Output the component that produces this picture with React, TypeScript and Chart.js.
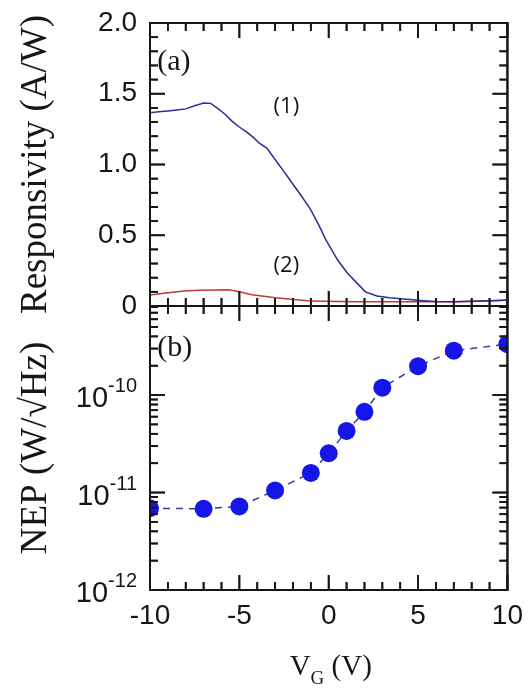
import { useEffect, useRef } from 'react';
import { Chart, registerables } from 'chart.js';
Chart.register(...registerables);

// ---- data ----
const GATE_1 = [-10, -9.5, -9, -8.5, -8, -7.5, -7, -6.6, -6.2, -5.8, -5.4, -5, -4.6, -4.2, -3.9, -3.45, -3, -2.5, -2.1, -1.5, -1.05, -0.6, -0.15, 0.5, 1.05, 1.6, 2.05, 2.7, 3.4, 4.35, 5.3, 6, 7, 8, 9, 10];
const RESP_1 = [1.366, 1.372, 1.378, 1.385, 1.393, 1.415, 1.435, 1.432, 1.395, 1.355, 1.305, 1.265, 1.23, 1.19, 1.152, 1.114, 1.035, 0.95, 0.878, 0.772, 0.69, 0.584, 0.466, 0.325, 0.231, 0.16, 0.1, 0.071, 0.059, 0.047, 0.037, 0.031, 0.03, 0.034, 0.037, 0.042];
const GATE_2 = [-10, -9, -8.1, -7.2, -6.3, -5.6, -5, -4.3, -3.4, -3, -2.1, -1.2, -0.2, 1.6, 3.4, 5.3, 7.1, 8.9, 10];
const RESP_2 = [0.078, 0.094, 0.106, 0.111, 0.113, 0.115, 0.101, 0.08, 0.066, 0.059, 0.047, 0.037, 0.033, 0.03, 0.03, 0.03, 0.03, 0.035, 0.04];
const NEP_GATE = [-10, -7, -5, -3, -1, 0, 1, 2, 3, 5, 7, 10];
const NEP_VALUES = [6.9e-12, 6.8e-12, 7.2e-12, 1.05e-11, 1.59e-11, 2.53e-11, 4.28e-11, 6.74e-11, 1.19e-10, 1.98e-10, 2.85e-10, 3.33e-10];
const X_TICKS = [-10, -5, 0, 5, 10];
const RESP_TICKS = [0, 0.5, 1.0, 1.5, 2.0];
const NEP_TICKS = [1e-12, 1e-11, 1e-10];
const X_RANGE = [-10, 10];
const RESP_RANGE = [0, 2];
const NEP_RANGE = [1e-12, 8.2e-10];
const PANEL_LABELS = ['(a)', '(b)'];
const CURVE_LABELS = ['(1)', '(2)'];
const X_TITLE = ['V', 'G', ' (V)'];

// minor tick positions (axis decoration)
const X_MINOR = Array.from({ length: 21 }, (_, i) => X_RANGE[0] + i);
const RESP_MINOR = Array.from({ length: 21 }, (_, i) => i / 10);
const NEP_MINOR: number[] = [];
for (let d = -12; d <= -10; d++) {
  for (let m = 1; m <= 9; m++) {
    const v = m * Math.pow(10, d);
    if (v <= NEP_RANGE[1]) NEP_MINOR.push(v);
  }
}

const SANS = '"Liberation Sans", Arial, sans-serif';
const SERIF = '"Liberation Serif", "Times New Roman", serif';
const INK = '#161616';

function drawFrames(chart: any) {
  const ctx = chart.ctx;
  const a = chart.chartArea;
  const xs = chart.scales.x;
  const yR = chart.scales.yResp;
  const yN = chart.scales.yNep;
  ctx.save();
  ctx.setLineDash([]);
  ctx.strokeStyle = INK;
  ctx.lineCap = 'butt';
  const seg = (x1: number, y1: number, x2: number, y2: number, w: number) => {
    ctx.lineWidth = w;
    ctx.beginPath();
    ctx.moveTo(x1, y1);
    ctx.lineTo(x2, y2);
    ctx.stroke();
  };
  const panels = [
    { ys: yR, yt: RESP_MINOR.map((v) => ({ v, major: RESP_TICKS.some((m) => Math.abs(m - v) < 1e-9) })) },
    { ys: yN, yt: NEP_MINOR.map((v) => ({ v, major: NEP_TICKS.some((m) => Math.abs(m / v - 1) < 1e-6) })) },
  ];
  for (const p of panels) {
    const top = p.ys.getPixelForValue(p.ys.max);
    const bottom = p.ys.getPixelForValue(p.ys.min);
    for (const v of X_MINOR) {
      const px = xs.getPixelForValue(v);
      const len = X_TICKS.includes(v) ? 15 : 8;
      seg(px, bottom, px, bottom - len, 1.8);
      seg(px, top, px, top + len, 1.8);
    }
    for (const t of p.yt) {
      const py = p.ys.getPixelForValue(t.v);
      const len = t.major ? 15 : 8;
      seg(a.left, py, a.left + len, py, 1.8);
      seg(a.right, py, a.right - len, py, 1.8);
    }
    seg(a.left, top, a.right, top, 2);
    seg(a.left, bottom, a.right, bottom, 2);
    seg(a.left, top - 1, a.left, bottom + 1, 2);
    seg(a.right, top - 1, a.right, bottom + 1, 2);
  }
  ctx.restore();
}

const decor = {
  id: 'decor',
  beforeDatasetsDraw(chart: any) {
    drawFrames(chart);
  },
  afterDraw(chart: any) {
    drawFrames(chart);
    const ctx = chart.ctx;
    const a = chart.chartArea;
    const xs = chart.scales.x;
    const yR = chart.scales.yResp;
    const yN = chart.scales.yNep;
    ctx.save();
    ctx.fillStyle = INK;
    // log tick labels with raised exponents
    const right = a.left - 13;
    for (const v of NEP_TICKS) {
      const py = yN.getPixelForValue(v);
      const exp = String(Math.round(Math.log10(v)));
      ctx.textAlign = 'right';
      ctx.textBaseline = 'alphabetic';
      ctx.font = `20px ${SANS}`;
      const ew = ctx.measureText(exp).width;
      ctx.fillText(exp, right, py - 3);
      ctx.font = `29px ${SANS}`;
      ctx.fillText('10', right - ew, py + 12);
    }
    // panel / curve annotations
    ctx.textBaseline = 'middle';
    ctx.textAlign = 'left';
    ctx.font = `30px ${SERIF}`;
    ctx.fillText(PANEL_LABELS[0], xs.getPixelForValue(-9.6), yR.getPixelForValue(1.72));
    ctx.fillText(PANEL_LABELS[1], xs.getPixelForValue(-9.6), yN.getPixelForValue(3.0e-10));
    ctx.textAlign = 'center';
    ctx.font = `22px "Open Sans", sans-serif`;
    ctx.fillText(CURVE_LABELS[0], xs.getPixelForValue(-2.37), yR.getPixelForValue(1.405));
    ctx.fillText(CURVE_LABELS[1], xs.getPixelForValue(-2.37), yR.getPixelForValue(0.283));
    // x-axis title with subscript
    const big = `29px ${SERIF}`;
    const small = `19px ${SERIF}`;
    ctx.textAlign = 'left';
    ctx.textBaseline = 'alphabetic';
    ctx.font = big;
    const wV = ctx.measureText(X_TITLE[0]).width;
    const wRest = ctx.measureText(X_TITLE[2]).width;
    ctx.font = small;
    const wG = ctx.measureText(X_TITLE[1]).width;
    const x0 = xs.getPixelForValue(0) + 2 - (wV + wG + wRest) / 2;
    const base = a.bottom + 85;
    ctx.font = big;
    ctx.fillText(X_TITLE[0], x0, base);
    ctx.font = small;
    ctx.fillText(X_TITLE[1], x0 + wV, base + 9);
    ctx.font = big;
    ctx.fillText(X_TITLE[2], x0 + wV + wG, base);
    ctx.restore();
  },
};

function respAxis() {
  return {
    type: 'linear',
    position: 'left',
    stack: 'v',
    stackWeight: 283,
    min: RESP_RANGE[0],
    max: RESP_RANGE[1],
    afterFit: (s: any) => { s.width = 150; s.paddingTop = 0; s.paddingBottom = 0; },
    afterBuildTicks: (s: any) => { s.ticks = RESP_TICKS.map((value) => ({ value })); },
    grid: { display: false, drawTicks: false },
    border: { display: true, color: INK, width: 2 },
    ticks: {
      padding: 13,
      color: INK,
      font: { family: SANS, size: 28 },
      callback: (v: any) => (Number(v) === 0 ? '0' : Number(v).toFixed(1)),
    },
    title: {
      display: true,
      text: 'Responsivity (A/W)',
      color: INK,
      font: { family: SERIF, size: 37 },
      padding: { top: 14, bottom: 0 },
    },
  };
}

function nepAxis() {
  return {
    type: 'logarithmic',
    position: 'left',
    stack: 'v',
    stackWeight: 284,
    min: NEP_RANGE[0],
    max: NEP_RANGE[1],
    afterFit: (s: any) => { s.width = 150; s.paddingTop = 0; s.paddingBottom = 0; },
    afterBuildTicks: (s: any) => { s.ticks = NEP_TICKS.map((value) => ({ value })); },
    grid: { display: false, drawTicks: false },
    border: { display: true, color: INK, width: 2 },
    ticks: { display: false },
    title: {
      display: true,
      text: 'NEP (W/\u221AHz)',
      color: INK,
      font: { family: SERIF, size: 37 },
      padding: { top: 14, bottom: 0 },
    },
  };
}

function buildChart(canvas: HTMLCanvasElement, respFirst: boolean) {
  const xAxis = {
    type: 'linear',
    position: 'bottom',
    min: X_RANGE[0],
    max: X_RANGE[1],
    afterFit: (s: any) => { s.height = 98; },
    afterBuildTicks: (s: any) => { s.ticks = X_TICKS.map((value) => ({ value })); },
    grid: { display: false, drawTicks: false },
    border: { display: true, color: INK, width: 2 },
    ticks: {
      padding: 9,
      color: INK,
      maxRotation: 0,
      autoSkip: false,
      font: { family: SANS, size: 28 },
      callback: (v: any) => String(v),
    },
  };
  const scales: any = respFirst
    ? { x: xAxis, yResp: respAxis(), yNep: nepAxis() }
    : { x: xAxis, yNep: nepAxis(), yResp: respAxis() };
  return new Chart(canvas, {
    type: 'line',
    data: {
      datasets: [
        { data: GATE_1.map((x, i) => ({ x, y: RESP_1[i] })), yAxisID: 'yResp', borderColor: '#2c2c9c', borderWidth: 1.5, pointRadius: 0 },
        { data: GATE_2.map((x, i) => ({ x, y: RESP_2[i] })), yAxisID: 'yResp', borderColor: '#c23838', borderWidth: 1.5, pointRadius: 0 },
        {
          data: NEP_GATE.map((x, i) => ({ x, y: NEP_VALUES[i] })),
          yAxisID: 'yNep',
          borderColor: '#3a3a9e',
          borderWidth: 1.5,
          borderDash: [7, 6],
          pointRadius: 9,
          pointBackgroundColor: '#1515e8',
          pointBorderWidth: 0,
          clip: { left: 0, right: 0, top: 20, bottom: 20 },
        },
      ],
    },
    options: {
      responsive: false,
      animation: false,
      devicePixelRatio: 1,
      layout: { padding: { left: 0, right: 19, top: 23, bottom: 0 } },
      plugins: { legend: { display: false }, tooltip: { enabled: false } },
      scales,
    },
    plugins: [decor],
  } as any);
}

export default function App() {
  const ref = useRef<HTMLCanvasElement>(null);

  useEffect(() => {
    document.body.style.margin = '0';
    let chart: any = buildChart(ref.current!, false);
    if (chart.scales.yResp.top > chart.scales.yNep.top) {
      chart.destroy();
      chart = buildChart(ref.current!, true);
    }
    return () => chart.destroy();
  }, []);

  return <canvas ref={ref} width={532} height={688} style={{ display: 'block' }} />;
}
